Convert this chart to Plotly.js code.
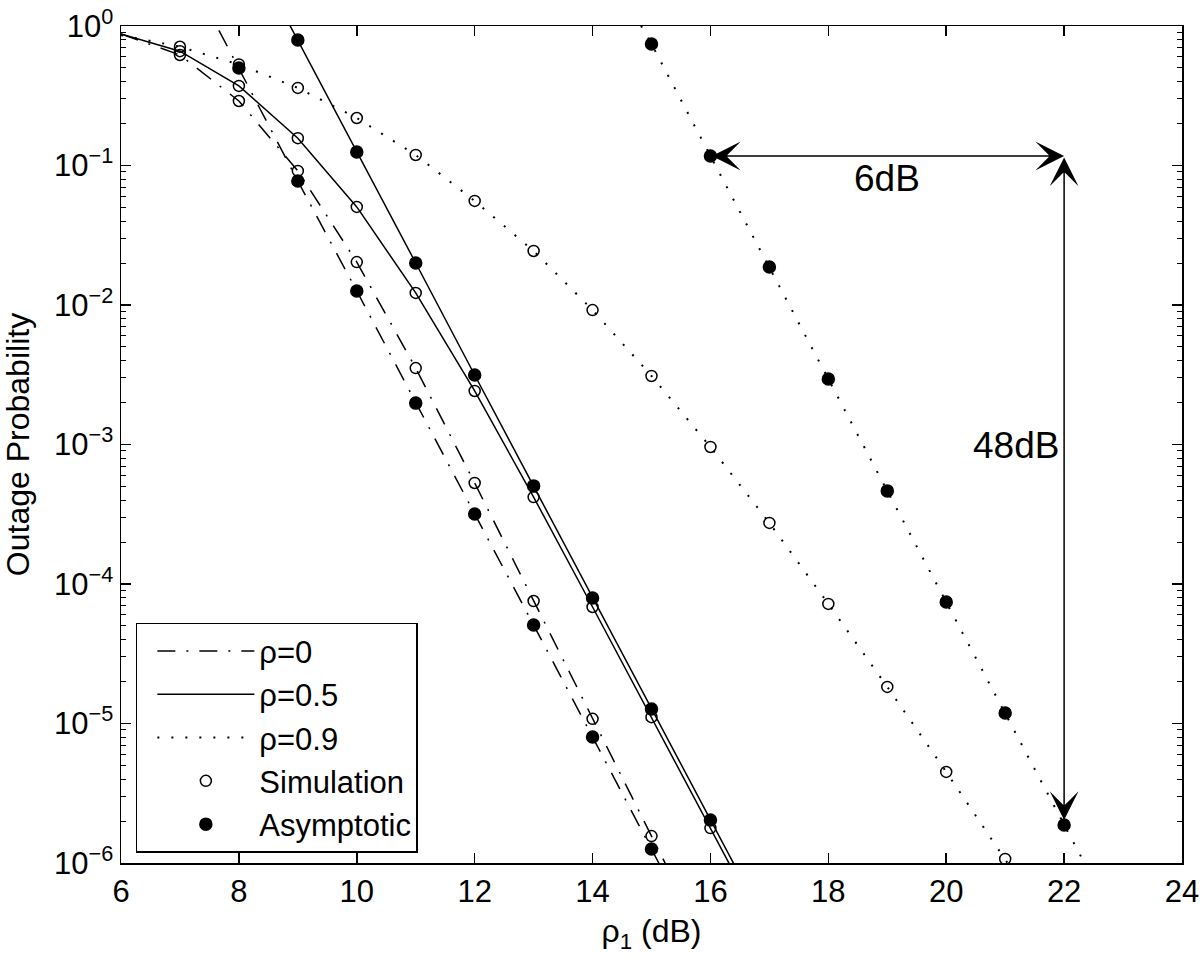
<!DOCTYPE html>
<html>
<head>
<meta charset="utf-8">
<script src="https://cdn.plot.ly/plotly-3.0.1.min.js"></script>
<style>
  html, body { margin: 0; padding: 0; background: #fff; }
  #chart { width: 1200px; height: 967px; }
</style>
</head>
<body>
<div id="chart"></div>
<script>
'use strict';

// rho = 0 : exact curve, simulation, asymptotic
const snrR0 = [6, 7, 8, 9, 10, 11, 12, 13, 14, 15, 16];
const exactR0 = [0.877, 0.62, 0.29, 0.0914, 0.0203, 0.00353, 5.3e-4, 7.55e-5, 1.08e-5, 1.56e-6, 2.26e-7];
const simSnrR0 = [7, 8, 9, 10, 11, 12, 13, 14, 15];
const simR0 = [0.62, 0.29, 0.0914, 0.0203, 0.00353, 5.3e-4, 7.55e-5, 1.08e-5, 1.56e-6];
const asymSnrR0 = [7, 8, 9, 10, 11, 12, 13, 14, 15, 16];
const asymR0 = [3.18, 0.5, 0.0774, 0.0126, 0.00198, 3.18e-4, 5.08e-5, 8.0e-6, 1.26e-6, 1.98e-7];

// rho = 0.5
const snrR5 = [6, 7, 8, 9, 10, 11, 12, 13, 14, 15, 16, 17];
const exactR5 = [0.877, 0.66, 0.372, 0.157, 0.0505, 0.0122, 0.00242, 4.2e-4, 6.84e-5, 1.11e-5, 1.78e-6, 2.85e-7];
const simSnrR5 = [7, 8, 9, 10, 11, 12, 13, 14, 15, 16];
const simR5 = [0.66, 0.372, 0.157, 0.0505, 0.0122, 0.00242, 4.2e-4, 6.84e-5, 1.11e-5, 1.78e-6];
const asymSnrR5 = [8, 9, 10, 11, 12, 13, 14, 15, 16, 17];
const asymR5 = [4.95, 0.794, 0.125, 0.02, 0.00315, 5.05e-4, 7.94e-5, 1.27e-5, 2.03e-6, 3.26e-7];

// rho = 0.9
const snrR9 = [6, 7, 8, 9, 10, 11, 12, 13, 14, 15, 16, 17, 18, 19, 20, 21, 22];
const exactR9 = [0.86, 0.71, 0.53, 0.36, 0.219, 0.119, 0.0557, 0.0244, 0.0092, 0.0031, 9.6e-4, 2.74e-4, 7.2e-5, 1.83e-5, 4.5e-6, 1.07e-6, 2.5e-7];
const simSnrR9 = [7, 8, 9, 10, 11, 12, 13, 14, 15, 16, 17, 18, 19, 20, 21];
const simR9 = [0.71, 0.53, 0.36, 0.219, 0.119, 0.0557, 0.0244, 0.0092, 0.0031, 9.6e-4, 2.74e-4, 7.2e-5, 1.83e-5, 4.5e-6, 1.07e-6];
const asymSnrR9 = [14, 15, 16, 17, 18, 19, 20, 21, 22, 23];
const asymR9 = [4.1, 0.743, 0.117, 0.0187, 0.00295, 4.65e-4, 7.43e-5, 1.19e-5, 1.87e-6, 3.0e-7];

const xTicks = [6, 8, 10, 12, 14, 16, 18, 20, 22, 24];
const yTicks = [1e-6, 1e-5, 1e-4, 1e-3, 1e-2, 1e-1, 1];
const yTickText = ['10<sup>−6</sup>', '10<sup>−5</sup>', '10<sup>−4</sup>', '10<sup>−3</sup>',
    '10<sup>−2</sup>', '10<sup>−1</sup>', '10<sup>0</sup>'];

const FONT = 'Liberation Sans, Arial, Helvetica, sans-serif';
const DASHDOT = '18px,11px,2px,11px';
const DOTTED = '2px,12px';

const yMinor = [];
for (let e = -6; e < 0; e++) for (let m = 2; m <= 9; m++) yMinor.push(m * Math.pow(10, e));

function lineTrace(x, y, name, dash, show) {
    return {
        x, y, name, type: 'scatter', mode: 'lines', showlegend: show,
        line: { color: '#000', width: dash === DOTTED ? 2 : 1.5, dash },
        hoverinfo: 'skip',
    };
}

function markTrace(x, y, name, open, show) {
    return {
        x, y, name, type: 'scatter', mode: 'markers', showlegend: show,
        marker: {
            symbol: open ? 'circle-open' : 'circle', size: open ? 11 : 12,
            color: '#000', line: { color: '#000', width: 1.5 },
        },
    };
}

const traces = [
    lineTrace(snrR0, exactR0, 'ρ=0', DASHDOT, true),
    lineTrace(snrR5, exactR5, 'ρ=0.5', 'solid', true),
    lineTrace(snrR9, exactR9, 'ρ=0.9', DOTTED, true),
    lineTrace(asymSnrR0, asymR0, 'asym 0', DASHDOT, false),
    lineTrace(asymSnrR5, asymR5, 'asym 0.5', 'solid', false),
    lineTrace(asymSnrR9, asymR9, 'asym 0.9', DOTTED, false),
    markTrace(simSnrR0, simR0, 'Simulation', true, true),
    markTrace(simSnrR5, simR5, 'Simulation', true, false),
    markTrace(simSnrR9, simR9, 'Simulation', true, false),
    markTrace(asymSnrR0.slice(1, -1), asymR0.slice(1, -1), 'Asymptotic', false, true),
    markTrace(asymSnrR5.slice(1, -1), asymR5.slice(1, -1), 'Asymptotic', false, false),
    markTrace(asymSnrR9.slice(1, -1), asymR9.slice(1, -1), 'Asymptotic', false, false),
];

// arrows: 6 dB shift at 16 dB and 48 dB drop at 22 dB on the rho=0.9 asymptote
const yAt16 = Math.log10(asymR9[asymSnrR9.indexOf(16)]);
const yAt22 = Math.log10(asymR9[asymSnrR9.indexOf(22)]);
const arrow = {
    text: '', showarrow: true, xref: 'x', yref: 'y', axref: 'x', ayref: 'y',
    arrowside: 'end+start', arrowhead: 3, startarrowhead: 3,
    arrowsize: 3.2, startarrowsize: 3.2, arrowwidth: 1.5, arrowcolor: '#000',
};

const axisBase = {
    showline: true, linecolor: '#000', linewidth: 1.5, mirror: 'ticks',
    ticks: 'inside', ticklen: 10, tickwidth: 1.5, tickcolor: '#000',
    showgrid: false, zeroline: false,
    tickfont: { family: FONT, size: 31, color: '#000' },
};

const layout = {
    width: 1200, height: 967,
    paper_bgcolor: '#fff', plot_bgcolor: '#fff',
    margin: { l: 121, r: 18, t: 26, b: 104 },
    font: { family: FONT, color: '#000' },
    showlegend: true,
    xaxis: Object.assign({}, axisBase, {
        range: [6, 24], tickmode: 'array', tickvals: xTicks,
        title: { text: 'ρ<sub>1</sub> (dB)', font: { family: FONT, size: 32 }, standoff: 12 },
    }),
    yaxis: Object.assign({}, axisBase, {
        type: 'log', range: [-6, 0], tickmode: 'array', tickvals: yTicks, ticktext: yTickText,
        minor: { tickmode: 'array', tickvals: yMinor, ticks: 'inside', ticklen: 5, tickwidth: 1, tickcolor: '#000', showgrid: false },
        title: { text: 'Outage Probability', font: { family: FONT, size: 32 }, standoff: 23 },
    }),
    legend: {
        x: 0.014, y: 0.287, xanchor: 'left', yanchor: 'top',
        bgcolor: '#fff', bordercolor: '#000', borderwidth: 1.5,
        font: { family: FONT, size: 31, color: '#000' },
        itemwidth: 97, indentation: 15, tracegroupgap: 0,
    },
    annotations: [
        Object.assign({}, arrow, { x: 22, y: yAt16, ax: 16, ay: yAt16 }),
        Object.assign({}, arrow, { x: 22, y: yAt22, ax: 22, ay: yAt16, standoff: 5 }),
        { text: '6dB', x: 19, y: yAt16, yshift: -23, showarrow: false, font: { family: FONT, size: 37, color: '#000' } },
        { text: '48dB', x: 22, y: -3.01, xanchor: 'right', xshift: -3, showarrow: false, font: { family: FONT, size: 37, color: '#000' } },
    ],
};

Plotly.newPlot('chart', traces, layout, { staticPlot: true, displayModeBar: false });
</script>
</body>
</html>
